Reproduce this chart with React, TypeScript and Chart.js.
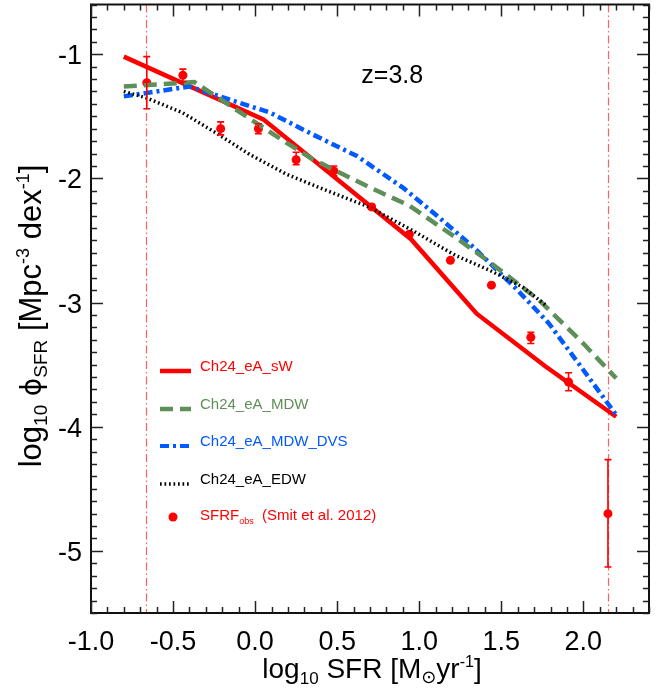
import React, { useEffect, useRef } from "react";
import { Chart, registerables } from "chart.js";

Chart.register(...registerables);

// ---------- data ----------
const xTickLabels = ["-1.0", "-0.5", "0.0", "0.5", "1.0", "1.5", "2.0"];
const yTickLabels = ["-1", "-2", "-3", "-4", "-5"];

// Smit et al. 2012 observations
const obsX = [-0.66, -0.44, -0.21, 0.02, 0.25, 0.48, 0.71, 0.94, 1.19, 1.44, 1.68, 1.91, 2.15];
const obsY = [-1.23, -1.17, -1.6, -1.6, -1.85, -1.94, -2.23, -2.45, -2.66, -2.86, -3.28, -3.64, -4.7];
const obsYHi = [-1.02, -1.12, -1.545, -1.56, -1.79, -1.9, -2.21, -2.435, -2.645, -2.845, -3.24, -3.565, -4.265];
const obsYLo = [-1.44, -1.22, -1.65, -1.64, -1.89, -1.98, -2.25, -2.465, -2.675, -2.875, -3.33, -3.71, -5.13];

// Ch24_eA_sW
const sWX = [-0.8, 0.05, 0.95, 1.35, 1.77, 2.2];
const sWY = [-1.02, -1.525, -2.49, -3.09, -3.515, -3.92];

// Ch24_eA_MDW
const mdwX = [-0.8, -0.37, 0.19, 0.35, 0.7, 0.94, 1.22, 1.43, 1.73, 2.0, 2.2];
const mdwY = [-1.26, -1.225, -1.713, -1.846, -2.074, -2.22, -2.474, -2.675, -2.98, -3.33, -3.61];

// Ch24_eA_MDW_DVS
const dvsX = [-0.8, -0.4, -0.1, 0.09, 0.35, 0.62, 0.9, 1.12, 1.33, 1.59, 1.79, 1.97, 2.2];
const dvsY = [-1.34, -1.26, -1.39, -1.47, -1.646, -1.82, -2.074, -2.314, -2.554, -2.888, -3.168, -3.489, -3.905];

// Ch24_eA_EDW
const edwX = [-0.8, -0.66, -0.44, -0.24, -0.035, 0.19, 0.39, 0.7, 0.96, 1.22, 1.43, 1.63, 1.77];
const edwY = [-1.3, -1.353, -1.473, -1.633, -1.806, -1.966, -2.074, -2.234, -2.421, -2.62, -2.741, -2.875, -3.02];

// SFR completeness limits (vertical dash-dot lines)
const limitX = [-0.662, 2.152];

const redshiftLabel = "z=3.8";
const redshiftAnchor = { x: 0.647, y: -1.232 };

const seriesNames = ["Ch24_eA_sW", "Ch24_eA_MDW", "Ch24_eA_MDW_DVS", "Ch24_eA_EDW"];

// ---------- styles ----------
const W = 665;
const H = 691;
const FONT = '"Liberation Sans", Arial, Helvetica, "DejaVu Sans", sans-serif';
const SYMFONT = '"DejaVu Sans", "Liberation Sans", sans-serif';
const RED = "#ff0000";
const GREEN = "#5f8f59";
const BLUE = "#005aff";
const BLACK = "#000000";
const LIMIT = "rgba(255,80,80,0.9)";

const DASH_MDW = [13, 7];
const DASH_DVS = [9, 4, 3, 4];
const DASH_EDW = [1.7, 2.8];

type Run = { t: string; size: number; dy: number; f?: string };

function drawRuns(ctx: CanvasRenderingContext2D, runs: Run[], x: number, y: number, center: boolean) {
  let total = 0;
  for (const r of runs) {
    ctx.font = `${r.size}px ${r.f || FONT}`;
    total += ctx.measureText(r.t).width;
  }
  let cx = center ? x - total / 2 : x;
  ctx.textAlign = "left";
  ctx.textBaseline = "alphabetic";
  for (const r of runs) {
    ctx.font = `${r.size}px ${r.f || FONT}`;
    ctx.fillText(r.t, cx, y + r.dy);
    cx += ctx.measureText(r.t).width;
  }
}

function pts(xs: number[], ys: number[]) {
  return xs.map((x, i) => ({ x, y: ys[i] }));
}

const customPlugin = {
  id: "customDecor",
  beforeDatasetsDraw(chart: any) {
    const { ctx, chartArea, scales } = chart;
    const { top, bottom } = chartArea;
    ctx.save();
    ctx.strokeStyle = LIMIT;
    ctx.lineWidth = 1.2;
    ctx.setLineDash([8, 3, 1.5, 3]);
    for (const v of limitX) {
      const px = Math.round(scales.x.getPixelForValue(v)) + 0.5;
      ctx.beginPath();
      ctx.moveTo(px, top);
      ctx.lineTo(px, bottom);
      ctx.stroke();
    }
    ctx.restore();
  },
  afterDatasetsDraw(chart: any) {
    const { ctx, chartArea, scales } = chart;
    const { left, right, top, bottom } = chartArea;
    const xs = scales.x;
    const ys = scales.y;
    ctx.save();

    // error bars
    ctx.strokeStyle = RED;
    ctx.lineWidth = 1.6;
    ctx.setLineDash([]);
    for (let i = 0; i < obsX.length; i++) {
      const px = xs.getPixelForValue(obsX[i]);
      const yh = ys.getPixelForValue(obsYHi[i]);
      const yl = ys.getPixelForValue(obsYLo[i]);
      ctx.beginPath();
      ctx.moveTo(px, yh);
      ctx.lineTo(px, yl);
      ctx.moveTo(px - 3.5, yh);
      ctx.lineTo(px + 3.5, yh);
      ctx.moveTo(px - 3.5, yl);
      ctx.lineTo(px + 3.5, yl);
      ctx.stroke();
    }

    // frame
    ctx.strokeStyle = "#111";
    ctx.lineWidth = 2;
    ctx.strokeRect(left, top, right - left, bottom - top);

    // ticks
    ctx.lineWidth = 1.5;
    ctx.strokeStyle = "#222";
    const xMajor = xTickLabels.map(Number);
    for (let i = Math.ceil(xs.min * 10 - 1e-6); i <= Math.floor(xs.max * 10 + 1e-6); i++) {
      const v = i / 10;
      const major = xMajor.some((m) => Math.abs(m - v) < 1e-6);
      const len = major ? 12 : 6;
      const px = Math.round(xs.getPixelForValue(v)) + 0.5;
      ctx.beginPath();
      ctx.moveTo(px, bottom);
      ctx.lineTo(px, bottom - len);
      ctx.moveTo(px, top);
      ctx.lineTo(px, top + len);
      ctx.stroke();
    }
    const yMajor = yTickLabels.map(Number);
    for (let i = Math.ceil(ys.min * 10 - 1e-6); i <= Math.floor(ys.max * 10 + 1e-6); i++) {
      const v = i / 10;
      const major = yMajor.some((m) => Math.abs(m - v) < 1e-6);
      const len = major ? 12 : 6;
      const py = Math.round(ys.getPixelForValue(v)) + 0.5;
      ctx.beginPath();
      ctx.moveTo(left, py);
      ctx.lineTo(left + len, py);
      ctx.moveTo(right, py);
      ctx.lineTo(right - len, py);
      ctx.stroke();
    }

    // tick labels
    ctx.fillStyle = BLACK;
    ctx.font = `27px ${FONT}`;
    ctx.textAlign = "center";
    ctx.textBaseline = "alphabetic";
    xTickLabels.forEach((lab) => {
      ctx.fillText(lab, xs.getPixelForValue(Number(lab)), bottom + 37);
    });
    ctx.textAlign = "right";
    yTickLabels.forEach((lab) => {
      ctx.fillText(lab, left - 9, ys.getPixelForValue(Number(lab)) + 10);
    });

    // x title
    drawRuns(
      ctx,
      [
        { t: "log", size: 28, dy: 0 },
        { t: "10", size: 17, dy: 6 },
        { t: " SFR [M", size: 28, dy: 0 },
        { t: "⊙", size: 18, dy: 5 },
        { t: "yr", size: 28, dy: 0 },
        { t: "-1", size: 16, dy: -11 },
        { t: "]", size: 28, dy: 0 },
      ],
      (left + right) / 2 + 2,
      678,
      true
    );

    // y title (rotated)
    ctx.save();
    ctx.translate(41, 316);
    ctx.rotate(-Math.PI / 2);
    drawRuns(
      ctx,
      [
        { t: "log", size: 31, dy: 0 },
        { t: "10", size: 19, dy: 6 },
        { t: " ", size: 31, dy: 0 },
        { t: "ϕ", size: 28, dy: 0, f: SYMFONT },
        { t: "SFR", size: 19, dy: 6 },
        { t: " [Mpc", size: 31, dy: 0 },
        { t: "-3", size: 18, dy: -12 },
        { t: " dex", size: 31, dy: 0 },
        { t: "-1", size: 18, dy: -12 },
        { t: "]", size: 31, dy: 0 },
      ],
      0,
      0,
      true
    );
    ctx.restore();

    // redshift label
    ctx.fillStyle = BLACK;
    ctx.font = `25px ${FONT}`;
    ctx.textAlign = "left";
    ctx.textBaseline = "alphabetic";
    ctx.fillText(redshiftLabel, xs.getPixelForValue(redshiftAnchor.x), ys.getPixelForValue(redshiftAnchor.y));

    // legend
    const legendItems = [
      { name: seriesNames[0], color: RED, dash: [] as number[], width: 4.5, ly: 371 },
      { name: seriesNames[1], color: GREEN, dash: DASH_MDW, width: 4.5, ly: 409 },
      { name: seriesNames[2], color: BLUE, dash: DASH_DVS, width: 4, ly: 446 },
      { name: seriesNames[3], color: BLACK, dash: DASH_EDW, width: 3.5, ly: 484 },
    ];
    for (const it of legendItems) {
      ctx.strokeStyle = it.color;
      ctx.lineWidth = it.width;
      ctx.setLineDash(it.dash);
      ctx.beginPath();
      ctx.moveTo(160, it.ly);
      ctx.lineTo(191, it.ly);
      ctx.stroke();
      ctx.setLineDash([]);
      ctx.fillStyle = it.color;
      ctx.font = `15px ${FONT}`;
      ctx.textAlign = "left";
      ctx.fillText(it.name, 200, it.ly);
    }
    ctx.fillStyle = RED;
    ctx.beginPath();
    ctx.arc(173, 517, 4.5, 0, Math.PI * 2);
    ctx.fill();
    drawRuns(
      ctx,
      [
        { t: "SFRF", size: 15, dy: 0 },
        { t: "obs", size: 9, dy: 4 },
        { t: "  (Smit et al. 2012)", size: 15, dy: 0 },
      ],
      200,
      520,
      false
    );

    ctx.restore();
  },
};

export default function App() {
  const ref = useRef<HTMLCanvasElement | null>(null);

  useEffect(() => {
    if (!ref.current) return;
    const lineDs = (label: string, xsArr: number[], ysArr: number[], color: string, dash: number[], width: number) => ({
      type: "scatter" as const,
      label,
      data: pts(xsArr, ysArr),
      showLine: true,
      borderColor: color,
      backgroundColor: color,
      borderWidth: width,
      borderDash: dash,
      pointRadius: 0,
      tension: 0,
      fill: false,
    });
    const chart = new Chart(ref.current, {
      type: "scatter",
      data: {
        datasets: [
          lineDs(seriesNames[3], edwX, edwY, BLACK, DASH_EDW, 3.5),
          lineDs(seriesNames[1], mdwX, mdwY, GREEN, DASH_MDW, 4.5),
          lineDs(seriesNames[2], dvsX, dvsY, BLUE, DASH_DVS, 4.5),
          lineDs(seriesNames[0], sWX, sWY, RED, [], 4.5),
          {
            type: "scatter" as const,
            label: "SFRF_obs",
            data: pts(obsX, obsY),
            showLine: false,
            pointRadius: 4.5,
            pointBackgroundColor: RED,
            pointBorderColor: RED,
            pointBorderWidth: 0,
          },
        ],
      },
      options: {
        responsive: false,
        devicePixelRatio: 1,
        animation: false,
        layout: { padding: { left: 0, right: 16, top: 3, bottom: 0 } },
        plugins: { legend: { display: false }, tooltip: { enabled: false } },
        scales: {
          x: {
            type: "linear",
            min: -1.0,
            max: 2.4,
            grid: { display: false, drawTicks: false },
            border: { display: false },
            ticks: { display: false },
            afterFit: (s: any) => {
              s.height = 78;
            },
          },
          y: {
            type: "linear",
            min: -5.5,
            max: -0.6,
            grid: { display: false, drawTicks: false },
            border: { display: false },
            ticks: { display: false },
            afterFit: (s: any) => {
              s.width = 91;
            },
          },
        },
      },
      plugins: [customPlugin],
    });
    return () => chart.destroy();
  }, []);

  return (
    <div style={{ position: "absolute", left: 0, top: 0, width: W, height: H, background: "#fff" }}>
      <canvas ref={ref} width={W} height={H} style={{ width: W, height: H, display: "block" }} />
    </div>
  );
}
